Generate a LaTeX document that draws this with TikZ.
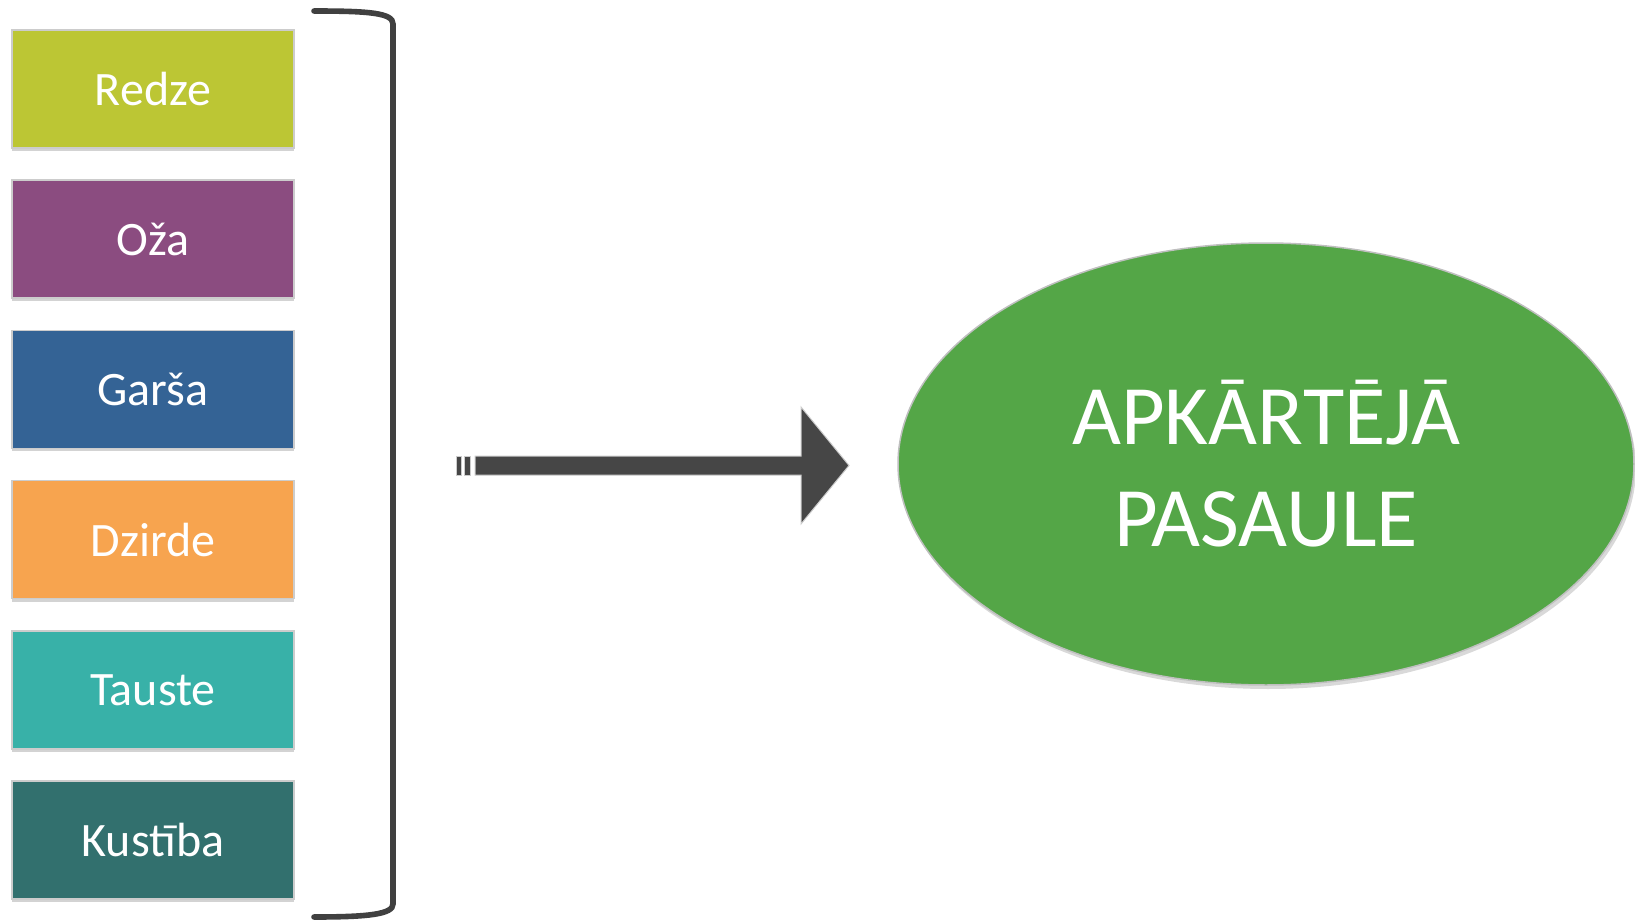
\documentclass[tikz,border=0pt]{standalone}
\usepackage{fontspec}
\setmainfont{Carlito}
\usetikzlibrary{shapes.geometric,shadows}
\definecolor{redzecol}{RGB}{188,198,52}
\definecolor{ozacol}{RGB}{139,76,128}
\definecolor{garsacol}{RGB}{52,99,149}
\definecolor{dzirdecol}{RGB}{247,164,79}
\definecolor{taustecol}{RGB}{56,177,168}
\definecolor{kustibacol}{RGB}{50,112,110}
\definecolor{worldcol}{RGB}{84,166,71}
\definecolor{darkgray}{RGB}{70,70,70}
\tikzset{sense/.style={draw=black!20, line width=0.75pt, minimum width=141pt, minimum height=59pt, inner sep=0pt, text=white,
	font=\fontsize{24}{29}\selectfont, drop shadow={shadow xshift=0pt, shadow yshift=-1.5pt, opacity=0.35}}}
\tikzset{bracket/.style={draw=black!75, line width=2.8pt, line cap=round}}

\begin{document}
\begin{tikzpicture}[x=0.5pt, y=-0.5pt]
\useasboundingbox (0,0) rectangle (1635,921);
\node[sense, fill=redzecol] (redze) at (153,89) {Redze};
\node[sense, fill=ozacol] (oza) at (153,239.2) {Oža};
\node[sense, fill=garsacol] (garsa) at (153,389.4) {Garša};
\node[sense, fill=dzirdecol] (dzirde) at (153,539.6) {Dzirde};
\node[sense, fill=taustecol] (tauste) at (153,689.8) {Tauste};
\node[sense, fill=kustibacol] (kustiba) at (153,840) {Kustība};
\draw[bracket] (314,11) .. controls (370,11) and (393,13) .. (393,24) -- (393,904) .. controls (393,914) and (370,917) .. (314,917); % bracket
% striped arrow
\begin{scope}[fill=darkgray, draw=black!20, line width=0.5pt, drop shadow={shadow xshift=1pt, shadow yshift=-1.5pt, opacity=0.3}]
\filldraw (456,456) rectangle (461,475);
\filldraw (464,456) rectangle (470,475);
\filldraw (475,456) -- (801,456) -- (801,407) -- (849,465.5) -- (801,524) -- (801,475) -- (475,475) -- cycle;
\end{scope}
\node[ellipse, fill=worldcol, draw=black!25, line width=0.75pt, minimum width=368pt, minimum height=221pt, inner sep=0pt,
	text=white, align=center, font=\fontsize{42.3}{51}\selectfont,
	drop shadow={shadow xshift=1pt, shadow yshift=-2pt, opacity=0.3}] (world) at (1266,464) {APKĀRTĒJĀ\\PASAULE};
\end{tikzpicture}
\end{document}
